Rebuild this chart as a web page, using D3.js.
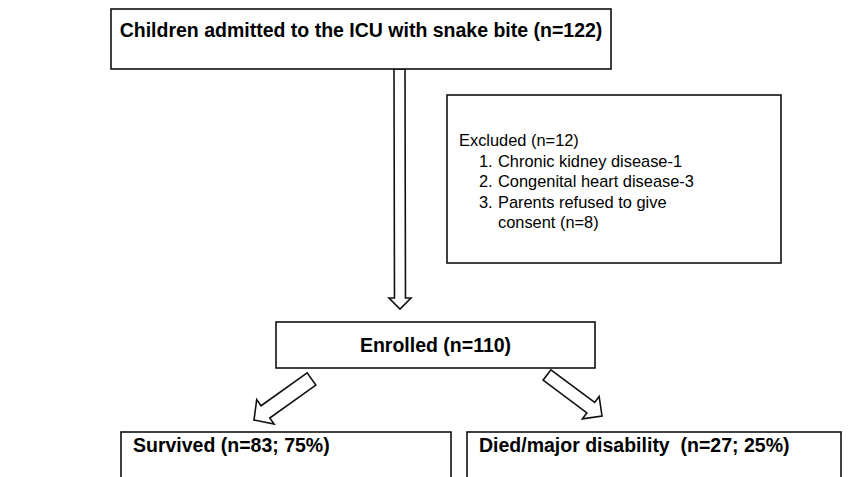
<!DOCTYPE html>
<html>
<head>
<meta charset="utf-8">
<script src="https://cdn.jsdelivr.net/npm/d3@7"></script>
<style>
  body { margin: 0; background: #fff; }
  text { font-family: "Liberation Sans", Arial, sans-serif; fill: #000; white-space: pre; }
</style>
</head>
<body>
<div id="flow"></div>
<script>
// Flow chart content
const screenedLabel = "Children admitted to the ICU with snake bite";
const screenedN = 122;
const excludedN = 12;
const exclusionReasons = ["Chronic kidney disease-1", "Congenital heart disease-3", "Parents refused to give consent (n=8)"];
const enrolledN = 110;
const outcomeLabels = ["Survived", "Died/major disability"];
const outcomeN = [83, 27];
const outcomePct = [75, 25];

const width = 848, height = 477;

const svg = d3.select("#flow")
    .append("svg")
    .attr("width", width)
    .attr("height", height);

// Box layout (pixels)
const topBox = { x: 111, y: 9, w: 500, h: 60 };
const exclBox = { x: 447, y: 95, w: 334, h: 168 };
const enrolBox = { x: 276, y: 322, w: 319, h: 46 };
const outBoxes = [
    { x: 121, y: 432, w: 330, h: 60 },
    { x: 467, y: 432, w: 374, h: 60 }
];
const boldSize = "19.5px";

function drawBox(b) {
    svg.append("rect")
        .attr("x", b.x).attr("y", b.y)
        .attr("width", b.w).attr("height", b.h)
        .attr("fill", "#fff")
        .attr("stroke", "#111")
        .attr("stroke-width", 1.6);
}

// Block arrow outline from tail centre to tip
function blockArrow(x0, y0, x1, y1, shaft, head, headLen) {
    const dx = x1 - x0, dy = y1 - y0;
    const len = Math.hypot(dx, dy);
    const ux = dx / len, uy = dy / len;
    const px = -uy, py = ux;
    const bx = x1 - ux * headLen, by = y1 - uy * headLen;
    const pts = [
        [x0 + px * shaft / 2, y0 + py * shaft / 2],
        [bx + px * shaft / 2, by + py * shaft / 2],
        [bx + px * head / 2, by + py * head / 2],
        [x1, y1],
        [bx - px * head / 2, by - py * head / 2],
        [bx - px * shaft / 2, by - py * shaft / 2],
        [x0 - px * shaft / 2, y0 - py * shaft / 2]
    ];
    svg.append("path")
        .attr("d", d3.line()(pts) + "Z")
        .attr("fill", "#fff")
        .attr("stroke", "#111")
        .attr("stroke-width", 1.6)
        .attr("stroke-linejoin", "miter");
}

// Arrows first so boxes sit on top
blockArrow(399.5, 69, 400, 309, 11, 22, 11);
blockArrow(311.5, 379, 254, 420, 15, 30, 14);
blockArrow(547, 375, 602, 416, 13, 28, 14);

// Top box
drawBox(topBox);
svg.append("text")
    .attr("x", topBox.x + topBox.w / 2)
    .attr("y", 37)
    .attr("text-anchor", "middle")
    .style("font-weight", "bold")
    .style("font-size", boldSize)
    .text(`${screenedLabel} (n=${screenedN})`);

// Exclusion box
drawBox(exclBox);
const exclText = svg.append("text")
    .style("font-size", "16.4px");
exclText.append("tspan")
    .attr("x", 459).attr("y", 146)
    .text(`Excluded (n=${excludedN})`);

let lineY = 146;
exclusionReasons.forEach((reason, i) => {
    lineY += 20.5;
    exclText.append("tspan").attr("x", 479).attr("y", lineY).text(`${i + 1}.`);
    // wrap long reasons
    const words = reason.split(" ");
    let line = [];
    let tspan = exclText.append("tspan").attr("x", 498).attr("y", lineY);
    words.forEach(w => {
        line.push(w);
        tspan.text(line.join(" "));
        if (tspan.node().getComputedTextLength() > 205 && line.length > 1) {
            line.pop();
            tspan.text(line.join(" "));
            line = [w];
            lineY += 20.5;
            tspan = exclText.append("tspan").attr("x", 498).attr("y", lineY).text(w);
        }
    });
});

// Enrolled box
drawBox(enrolBox);
svg.append("text")
    .attr("x", enrolBox.x + enrolBox.w / 2)
    .attr("y", 352)
    .attr("text-anchor", "middle")
    .style("font-weight", "bold")
    .style("font-size", boldSize)
    .text(`Enrolled (n=${enrolledN})`);

// Outcome boxes
outBoxes.forEach((b, i) => {
    drawBox(b);
    svg.append("text")
        .attr("x", b.x + 12)
        .attr("y", 452)
        .style("font-weight", "bold")
        .style("font-size", boldSize)
        .text(`${outcomeLabels[i]}${i === 1 ? "  " : " "}(n=${outcomeN[i]}; ${outcomePct[i]}%)`);
});
</script>
</body>
</html>
